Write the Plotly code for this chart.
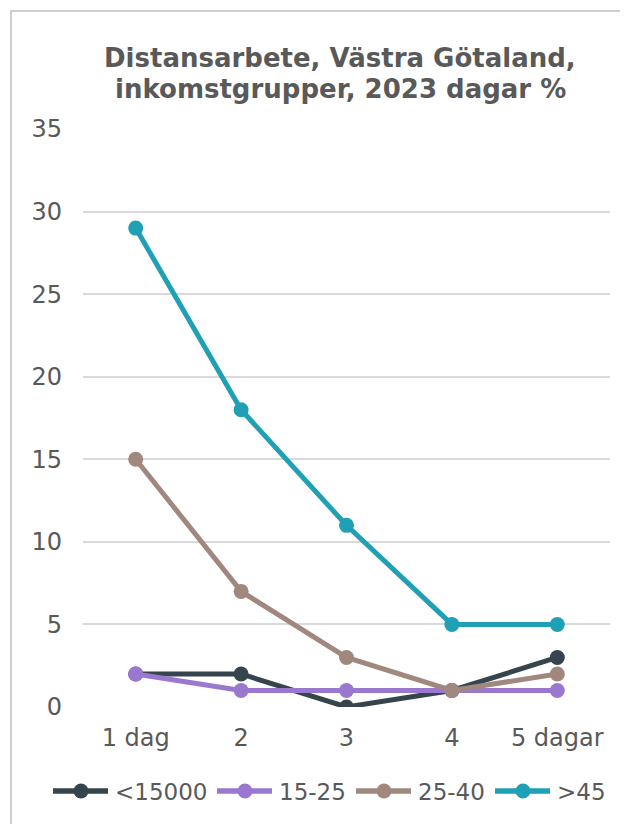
import plotly.graph_objects as go

# data
categories = ["1 dag", "2", "3", "4", "5 dagar"]
series_names = ["<15000", "15-25", "25-40", ">45"]
under_15000 = [2, 2, 0, 1, 3]
from_15_to_25 = [2, 1, 1, 1, 1]
from_25_to_40 = [15, 7, 3, 1, 2]
over_45 = [29, 18, 11, 5, 5]
y_ticks = [0, 5, 10, 15, 20, 25, 30, 35]
title_lines = ["Distansarbete, Västra Götaland,", "inkomstgrupper, 2023 dagar %"]

colors = ["#36454d", "#9a78d0", "#a1887f", "#1fa0b4"]
FONT = "DejaVu Sans, Verdana, sans-serif"
TEXT = "#595959"

# page body has an 8px margin, so the figure is shifted by that much
OFF = 8
W, H = 628 - OFF, 824 - OFF
L, R, T, B = 83 - OFF, 18, 129 - OFF, 117
pw, ph = W - L - R, H - T - B


def py(page_y):
    # page pixel row -> paper y
    return 1 + (T - (page_y - OFF)) / ph


def px(page_x):
    return (page_x - OFF - L) / pw


fig = go.Figure()
for name, vals, col in zip(series_names, [under_15000, from_15_to_25, from_25_to_40, over_45], colors):
    fig.add_trace(go.Scatter(
        x=categories, y=vals, name=name, mode="lines+markers",
        line=dict(color=col, width=5),
        marker=dict(color=col, size=15),
        showlegend=False,
    ))

fig.update_xaxes(
    type="category", range=[-0.5, 4.5],
    showgrid=False, zeroline=False, showline=False,
    tickfont=dict(family=FONT, size=24, color=TEXT),
    ticklabelstandoff=14,
)
fig.update_yaxes(
    range=[0, 35], tickvals=y_ticks,
    showgrid=True, gridcolor="#d9d9d9", gridwidth=1.5,
    zeroline=False, showline=False,
    tickfont=dict(family=FONT, size=24, color=TEXT),
    ticklabelstandoff=20,
)

for line, yc in zip(title_lines, [58, 89]):
    fig.add_annotation(
        text="<b>%s</b>" % line, showarrow=False,
        xref="paper", yref="paper", x=px(340), y=py(yc),
        xanchor="center", yanchor="middle",
        font=dict(family=FONT, size=26, color=TEXT),
    )

# legend along the bottom, long line keys like the original
shapes = [dict(
    type="rect", xref="paper", yref="paper",
    x0=px(11), x1=px(680), y0=py(860), y1=py(11),
    line=dict(color="#bfbfbf", width=1.5), fillcolor="rgba(0,0,0,0)",
    layer="below",
)]
legend_x = [53, 217, 356, 495]
legend_y = 791
for name, col, lx in zip(series_names, colors, legend_x):
    shapes.append(dict(
        type="line", xref="paper", yref="paper",
        x0=px(lx), x1=px(lx + 55), y0=py(legend_y), y1=py(legend_y),
        line=dict(color=col, width=5.5),
    ))
    shapes.append(dict(
        type="circle", xref="paper", yref="paper",
        xsizemode="pixel", ysizemode="pixel",
        xanchor=px(lx + 28), yanchor=py(legend_y),
        x0=-7.5, x1=7.5, y0=-7.5, y1=7.5,
        line=dict(width=0), fillcolor=col,
    ))
    fig.add_annotation(
        text=name, showarrow=False,
        xref="paper", yref="paper", x=px(lx + 60), y=py(legend_y + 1),
        xanchor="left", yanchor="middle",
        font=dict(family=FONT, size=23, color=TEXT),
    )

fig.update_layout(
    width=W, height=H,
    margin=dict(l=L, r=R, t=T, b=B),
    plot_bgcolor="white", paper_bgcolor="white",
    showlegend=False,
    shapes=shapes,
)

fig.write_html("out.html")
